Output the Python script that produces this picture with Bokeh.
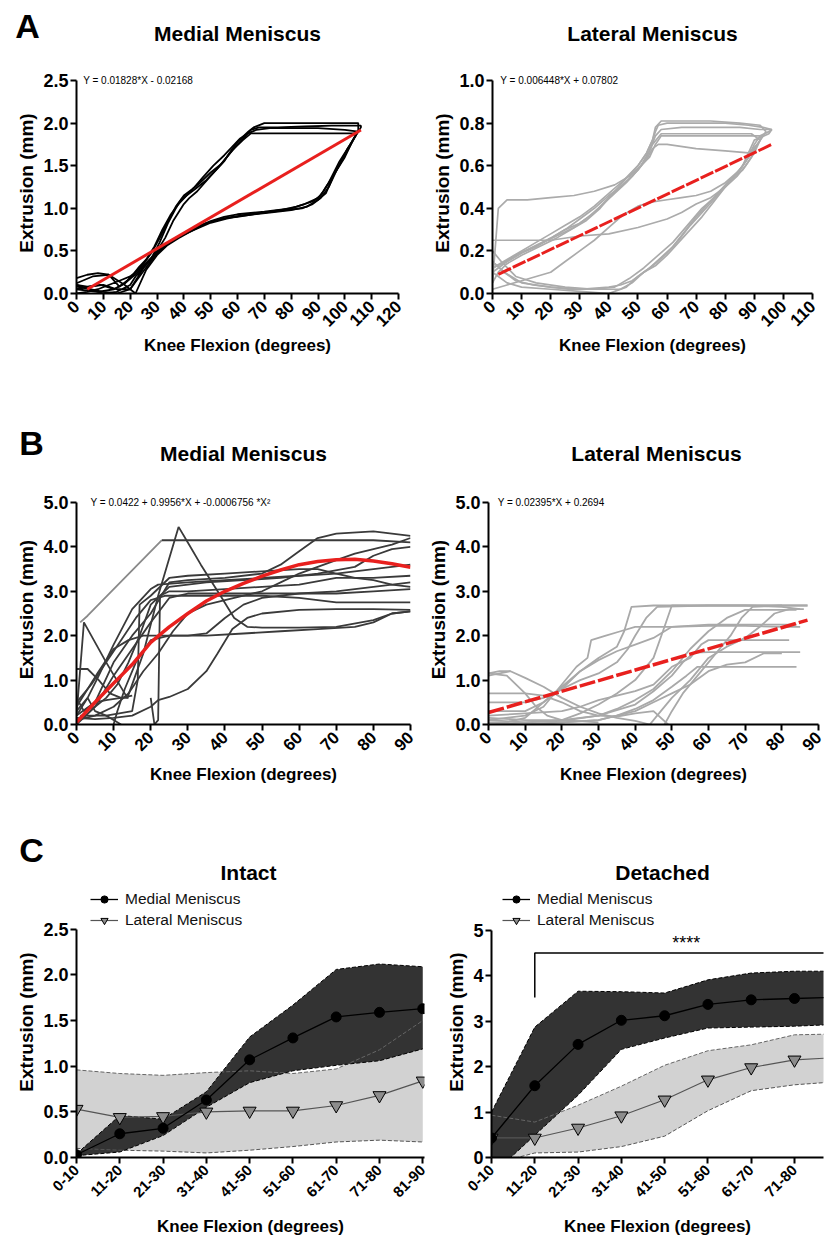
import math
from bokeh.plotting import figure
from bokeh.layouts import column, row
from bokeh.models import Range1d, FixedTicker, PrintfTickFormatter, Label, Legend, LegendItem
from bokeh.embed import file_html
from bokeh.resources import INLINE

FONT = "Liberation Sans"

# ---------------- Panel A, medial (black hysteresis loops) ----------------
a1_x = [0,5,10,15,20,25,30,35,40,45,50,55,60,70,80,85,90,92,95,100,103,105,105,90,80,70,66,64,60,57,55,50,45,42,40,38,36,33,30,27,25,22,20,15,10,5,0]
a1_y = [0.05,0.08,0.1,0.05,0.05,0.3,0.48,0.6,0.7,0.78,0.85,0.9,0.93,0.96,1.0,1.05,1.12,1.2,1.35,1.6,1.8,1.92,2.0,2.0,2.0,2.0,1.95,1.9,1.78,1.65,1.55,1.38,1.2,1.12,1.05,0.95,0.85,0.65,0.5,0.38,0.3,0.2,0.1,0.02,0.0,0.05,0.1]
a2_x = [0,6,12,18,22,26,30,34,38,42,48,54,60,68,76,82,88,91,94,98,102,104,104,92,80,68,65,62,58,54,50,46,43,40,37,35,33,31,28,25,22,18,14,8,0]
a2_y = [0.12,0.2,0.22,0.1,0.0,0.28,0.45,0.57,0.65,0.72,0.82,0.88,0.9,0.94,0.98,1.02,1.08,1.15,1.3,1.55,1.75,1.85,1.88,1.88,1.88,1.88,1.88,1.8,1.68,1.52,1.42,1.3,1.22,1.15,1.02,0.9,0.78,0.65,0.48,0.35,0.25,0.12,0.05,0.02,0.05]
a3_x = [0,4,8,12,16,20,24,28,32,36,40,46,52,58,64,72,80,86,90,93,96,100,104,106,106,95,85,75,68,65,63,60,56,52,48,44,41,38,35,32,29,26,23,20,16,12,8,4,0]
a3_y = [0.0,0.02,0.05,0.1,0.15,0.2,0.3,0.42,0.55,0.62,0.7,0.8,0.86,0.9,0.92,0.95,0.98,1.02,1.1,1.18,1.4,1.62,1.85,1.95,1.97,1.97,1.96,1.95,1.95,1.92,1.85,1.75,1.6,1.45,1.32,1.22,1.15,1.05,0.92,0.75,0.55,0.4,0.3,0.18,0.08,0.22,0.24,0.22,0.18]
a4_x = [0,5,10,15,20,23,27,31,35,39,44,50,56,62,70,78,84,88,91,94,97,101,104,105,100,90,80,72,67,64,61,58,55,51,47,44,41,39,37,34,31,28,24,21,18,14,9,4,0]
a4_y = [0.08,0.05,0.02,0.0,0.05,0.18,0.35,0.5,0.6,0.68,0.75,0.83,0.88,0.92,0.95,0.98,1.0,1.05,1.12,1.25,1.45,1.7,1.85,1.9,1.92,1.94,1.94,1.94,1.92,1.88,1.82,1.72,1.62,1.5,1.36,1.25,1.15,1.1,1.0,0.82,0.6,0.42,0.28,0.2,0.12,0.05,0.1,0.08,0.1]
fitA_med_x = [4, 106]
fitA_med_y = [0.05, 1.92]

# ---------------- Panel A, lateral (grey loops) ----------------
b1_x = [0,3,8,15,25,35,42,47,52,57,62,67,72,77,82,86,89,92,94,92,85,75,65,58,56,55,53,50,46,42,37,32,27,22,16,10,5,2,0]
b1_y = [0.2,0.15,0.08,0.05,0.03,0.02,0.03,0.07,0.12,0.18,0.24,0.32,0.4,0.46,0.53,0.6,0.66,0.72,0.76,0.79,0.8,0.81,0.81,0.81,0.78,0.72,0.66,0.6,0.54,0.48,0.4,0.34,0.3,0.26,0.22,0.18,0.14,0.1,0.05]
b2_x = [0,2,5,12,20,28,35,42,47,51,54,56,58,65,75,85,92,96,95,90,88,86,83,80,76,72,68,64,60,56,52,48,44,40,30,20,10,4,0]
b2_y = [0.05,0.4,0.44,0.44,0.45,0.46,0.48,0.51,0.55,0.6,0.67,0.74,0.77,0.78,0.78,0.78,0.77,0.77,0.75,0.72,0.66,0.6,0.55,0.5,0.43,0.36,0.3,0.24,0.18,0.13,0.1,0.06,0.04,0.03,0.02,0.03,0.05,0.1,0.15]
b3_x = [0,5,10,20,30,40,46,50,54,58,62,66,70,74,78,82,86,89,91,93,90,80,70,62,58,56,54,51,48,44,40,35,30,25,20,14,8,3,0]
b3_y = [0.1,0.05,0.03,0.02,0.01,0.0,0.03,0.08,0.12,0.17,0.22,0.29,0.36,0.42,0.48,0.54,0.58,0.64,0.7,0.74,0.74,0.74,0.74,0.74,0.74,0.7,0.64,0.6,0.55,0.5,0.45,0.38,0.33,0.3,0.26,0.22,0.18,0.14,0.12]
b4_x = [0,5,10,20,30,40,50,60,65,70,75,80,84,87,89,91,88,80,70,60,57,55,53,50,47,44,40,35,30,25,20,15,10,5,2,0]
b4_y = [0.25,0.25,0.25,0.25,0.27,0.28,0.31,0.35,0.38,0.42,0.45,0.5,0.56,0.62,0.66,0.7,0.66,0.67,0.68,0.7,0.7,0.68,0.63,0.58,0.54,0.5,0.46,0.4,0.35,0.3,0.26,0.22,0.19,0.15,0.12,0.1]
b5_x = [0,5,10,15,20,25,30,35,40,45,50,55,60,65,70,75,80,85,88,90,92,95,96,93,88,80,70,60,57,56,55,53,50,45,40,35,30,25,20,15,10,5,0]
b5_y = [0.02,0.04,0.06,0.08,0.1,0.15,0.2,0.25,0.31,0.37,0.41,0.43,0.44,0.45,0.46,0.48,0.52,0.58,0.64,0.7,0.74,0.76,0.77,0.78,0.79,0.8,0.8,0.8,0.79,0.76,0.72,0.66,0.6,0.53,0.47,0.41,0.36,0.32,0.28,0.24,0.2,0.16,0.12]
b6_x = [0,4,8,14,20,26,32,38,44,48,52,56,60,64,68,72,76,80,84,87,90,92,89,80,70,62,58,55,53,50,46,42,38,33,28,22,16,10,5,0]
b6_y = [0.15,0.1,0.06,0.04,0.03,0.02,0.02,0.02,0.02,0.05,0.1,0.14,0.19,0.25,0.32,0.38,0.44,0.5,0.55,0.6,0.66,0.72,0.75,0.75,0.75,0.75,0.75,0.7,0.64,0.58,0.52,0.47,0.42,0.36,0.31,0.27,0.23,0.19,0.15,0.12]
fitA_lat_x = [2, 96]
fitA_lat_y = [0.09, 0.70]

# ---------------- Panel B, medial ----------------
m1_x = [1, 3, 23]
m1_y = [2.3, 2.45, 4.15]
m2_x = [0,2,8,13.7,18,22,27.5,30,33.5,38.8,42.5,46,50,60,70,80,85,90]
m2_y = [0.2,2.3,1.4,0.6,1.6,2.9,4.45,4.1,3.6,2.9,2.4,2.2,2.18,2.18,2.2,2.35,2.5,2.55]
m3_x = [0,3,6,10,15,20,22,30,40,50,60,70,80,90]
m3_y = [0.2,0.6,1.1,1.8,2.6,3.05,3.15,3.2,3.25,3.3,3.35,3.4,3.5,3.6]
m4_x = [0,5,10,15,20,25,30,40,50,60,70,80,90]
m4_y = [0.0,0.4,1.1,1.7,2.3,2.85,2.95,2.95,2.95,2.95,2.95,3.0,3.05]
m5_x = [1,8,15,16.5,17,20,25,30,40,50,60,65,70,75,80,85,90]
m5_y = [0.2,0.2,0.3,1.0,2.7,2.9,3.3,3.35,3.4,3.45,3.5,3.5,3.4,3.3,3.25,3.15,3.1]
m6_x = [20,21,22,22.5,25,30,40,50,60,70,80,90]
m6_y = [0.6,0.0,0.1,2.9,3.0,3.0,3.05,3.1,3.15,3.3,3.3,3.35]
m7_x = [0,5,10,14,18,22,26,30,35,40,45,50,55,60,65,70,75,80,85,90]
m7_y = [0.1,0.2,0.4,0.7,1.2,1.6,2.1,2.5,2.7,2.8,2.9,3.0,3.2,3.4,3.55,3.7,3.85,3.95,4.05,4.2]
m8_x = [0,3,6,9,12,14]
m8_y = [1.25,1.25,1.0,0.7,0.6,0.6]
m9_x = [0,5,10,15,20,22,25,30,35,38,42,46,50,60,70,80,90]
m9_y = [0.15,0.12,0.15,0.2,0.4,0.55,0.62,0.8,1.2,1.6,2.15,2.4,2.5,2.58,2.6,2.6,2.58]
m10_x = [0,6,10,14,18,25,35,45,55,65,75,80,85,90]
m10_y = [0.4,1.2,1.7,1.9,2.0,2.0,2.0,2.05,2.1,2.15,2.2,2.3,2.5,2.55]
m11_x = [0,4,8,12,16,20,24,30,40,50,60,70,80,90]
m11_y = [0.5,0.9,1.4,1.9,2.4,2.8,2.9,2.9,2.9,2.9,2.85,2.75,2.75,2.75]
m12_x = [2,5,8,11,14,17,20,25,35,45,55,65,75,80,85,90]
m12_y = [0.3,0.4,0.6,0.9,1.4,2.0,2.7,3.1,3.2,3.25,3.3,3.4,3.55,3.8,3.95,4.0]
m13_x = [0,5,10,15,20,25,30,40,50,55,60,65,70,80,90]
m13_y = [0.2,0.5,1.4,2.0,2.5,3.2,3.25,3.3,3.4,3.6,3.9,4.2,4.3,4.35,4.25]
m14_x = [10,11,13,16,20,25,30,35,40,45,50,60,70,80,90]
m14_y = [0.0,0.3,0.8,1.4,1.9,2.0,2.0,2.05,2.4,2.7,2.85,2.95,3.0,3.1,3.2]
m15_x = [0,2,5,8,12,15]
m15_y = [0.6,0.3,0.5,0.55,0.6,0.65]
m16_x = [23,40,60,80,90]
m16_y = [4.15,4.15,4.15,4.15,4.1]
m17_x = [0,3,5,8,10,12]
m17_y = [0.3,0.6,0.3,0.2,0.1,0.0]
fitB_med_x = [0,5,10,15,20,25,30,35,40,45,50,55,60,65,70,75,80,85,90]
fitB_med_y = [0.05,0.5,0.93,1.35,1.85,2.2,2.5,2.78,3.0,3.18,3.34,3.48,3.6,3.67,3.71,3.72,3.68,3.62,3.54]

# ---------------- Panel B, lateral ----------------
l1_x = [0,3,6,10,15,20,25,30,35,40,44]
l1_y = [1.1,1.15,1.2,1.05,0.85,0.6,0.4,0.25,0.15,0.08,0.0]
l2_x = [0,5,10,15,20,25,30,35,40,45,49]
l2_y = [0.7,0.7,0.7,0.65,0.5,0.3,0.2,0.18,0.25,0.3,0.0]
l3_x = [0,5,10,15,20,25,30,35,37,39,45,60,75,87]
l3_y = [0.05,0.05,0.15,0.5,0.85,1.2,1.5,1.75,2.1,2.65,2.68,2.68,2.68,2.68]
l4_x = [0,10,15,20,24,27,28,32,36,40,50,60,70,80,85]
l4_y = [0.1,0.2,0.4,0.9,1.3,1.5,1.9,2.0,2.1,2.2,2.2,2.22,2.22,2.2,2.2]
l5_x = [0,10,20,25,30,35,40,45,48,50,60,70,80,85]
l5_y = [0.0,0.05,0.1,0.25,0.45,0.7,1.0,1.5,2.2,2.68,2.68,2.68,2.65,2.6]
l6_x = [0,10,20,30,35,40,45,50,55,60,65,70,80,84]
l6_y = [0.1,0.05,0.08,0.2,0.35,0.55,0.8,1.2,1.7,2.1,2.4,2.58,2.58,2.58]
l7_x = [10,20,30,35,40,45,50,54,57,65,75,84]
l7_y = [0.0,0.05,0.1,0.2,0.35,0.55,0.85,1.1,1.3,1.3,1.3,1.3]
l8_x = [0,10,20,30,40,45,50,53,56,60,70,80,85]
l8_y = [0.15,0.1,0.1,0.2,0.45,0.75,1.1,1.4,1.62,1.63,1.63,1.63,1.63]
l9_x = [0,10,20,25,30,35,40,45,50,55,58,60,70,82]
l9_y = [0.2,0.25,0.3,0.4,0.55,0.65,0.75,0.9,1.3,1.5,1.8,1.9,1.9,1.9]
l10_x = [48,50,53,56,60,63,66,69,72,80,87]
l10_y = [0.0,0.3,0.7,1.0,1.4,1.7,2.0,2.4,2.65,2.68,2.68]
l11_x = [44,47,50,55,60,65,70,74,78,82,86]
l11_y = [0.0,0.3,0.6,1.0,1.5,1.75,1.95,2.2,2.5,2.6,2.6]
l12_x = [0,5,10,13,16,20,30]
l12_y = [1.15,1.1,0.7,0.4,0.2,0.1,0.05]
l13_x = [0,5,10,15,20,25,30,35,38,40,43,46,60,70,80]
l13_y = [0.5,0.5,0.5,0.6,0.8,1.0,1.15,1.4,1.7,2.0,2.4,2.65,2.68,2.68,2.68]
l14_x = [0,10,15,20,25,30,35,40,45,50,60,70,80,84]
l14_y = [0.3,0.3,0.5,0.8,1.2,1.45,1.65,1.8,1.95,2.2,2.25,2.25,2.25,2.25]
l15_x = [0,3,6]
l15_y = [1.15,1.2,1.2]
l16_x = [0,10,20,30,40,45,50,55,60,65,70,75,80]
l16_y = [0.0,0.0,0.05,0.1,0.3,0.5,0.7,0.9,1.2,1.35,1.4,1.6,1.6]
fitB_lat_x = [0, 87]
fitB_lat_y = [0.27, 2.35]

# ---------------- Panel C ----------------
cats = ["0-10", "11-20", "21-30", "31-40", "41-50", "51-60", "61-70", "71-80", "81-90"]
intact_med = [0.03, 0.26, 0.32, 0.63, 1.07, 1.31, 1.54, 1.59, 1.63]
intact_med_hi = [0.04, 0.46, 0.42, 0.72, 1.32, 1.67, 2.06, 2.12, 2.09]
intact_med_lo = [0.02, 0.06, 0.24, 0.55, 0.82, 0.95, 1.01, 1.06, 1.19]
intact_lat = [0.53, 0.44, 0.45, 0.50, 0.51, 0.51, 0.57, 0.68, 0.84]
intact_lat_hi = [0.96, 0.92, 0.90, 0.93, 0.95, 0.92, 0.97, 1.18, 1.50]
intact_lat_lo = [0.10, 0.08, 0.07, 0.05, 0.08, 0.12, 0.17, 0.19, 0.17]
det_med = [0.43, 1.58, 2.49, 3.02, 3.12, 3.37, 3.47, 3.50, 3.53]
det_med_hi = [1.00, 2.87, 3.66, 3.65, 3.62, 3.91, 4.06, 4.10, 4.10]
det_med_lo = [-0.39, 0.49, 1.37, 2.38, 2.63, 2.85, 2.87, 2.89, 2.93]
det_lat = [0.43, 0.43, 0.65, 0.92, 1.27, 1.71, 1.98, 2.15, 2.20]
det_lat_hi = [0.93, 0.78, 1.15, 1.57, 2.03, 2.35, 2.48, 2.70, 2.72]
det_lat_lo = [-0.15, 0.10, 0.12, 0.24, 0.47, 1.03, 1.47, 1.60, 1.67]
bracket_x = [1, 1, 8.5]
bracket_y = [3.52, 4.5, 4.5]
stars_x, stars_y = 4.5, 4.72

PAGE_W = 826


def make_fig(width, height, xr, yr, bl, br, bt, bb, xticks, yticks, yfmt, ybounds,
             xsize="17px", ysize="18px", xstand=4):
    p = figure(width=width, height=height, x_range=Range1d(xr[0], xr[1]), y_range=Range1d(yr[0], yr[1]),
               output_backend="svg", toolbar_location=None,
               min_border_left=bl, min_border_right=br, min_border_top=bt, min_border_bottom=bb)
    p.xgrid.visible = False
    p.ygrid.visible = False
    p.outline_line_color = None
    p.background_fill_color = "white"
    p.border_fill_color = "white"
    for ax in (p.xaxis[0], p.yaxis[0]):
        ax.axis_line_width = 2
        ax.axis_line_color = "black"
        ax.major_tick_line_width = 2
        ax.major_tick_line_color = "black"
        ax.major_tick_out = 6
        ax.major_tick_in = 0
        ax.minor_tick_line_color = None
        ax.major_label_text_font = FONT
        ax.major_label_text_font_style = "bold"
        ax.major_label_text_color = "black"
        ax.axis_label_text_font = FONT
        ax.axis_label_text_font_style = "bold"
        ax.axis_label_text_color = "black"
    p.xaxis[0].axis_label_text_font_size = "17px"
    p.yaxis[0].axis_label_text_font_size = "19px"
    p.xaxis[0].major_label_text_font_size = xsize
    p.yaxis[0].major_label_text_font_size = ysize
    p.xaxis[0].ticker = FixedTicker(ticks=xticks)
    p.yaxis[0].ticker = FixedTicker(ticks=yticks)
    p.yaxis[0].formatter = PrintfTickFormatter(format=yfmt)
    p.yaxis[0].bounds = ybounds
    p.xaxis[0].major_label_orientation = math.pi / 4
    p.xaxis[0].major_label_standoff = 4
    p.yaxis[0].major_label_standoff = 2
    p.xaxis[0].axis_label = "Knee Flexion (degrees)"
    p.yaxis[0].axis_label = "Extrusion (mm)"
    p.xaxis[0].axis_label_standoff = xstand
    p.yaxis[0].axis_label_standoff = 3
    return p


def txt(p, x, y, text, size, bold=True, align="center", baseline="middle"):
    p.add_layout(Label(x=x, y=y, x_units="data", y_units="data", text=text, text_font=FONT,
                       text_font_size=size, text_font_style="bold" if bold else "normal",
                       text_align=align, text_baseline=baseline, text_color="black"))


def header(height, items):
    h = figure(width=PAGE_W, height=height, x_range=Range1d(0, PAGE_W), y_range=Range1d(0, height),
               output_backend="svg", toolbar_location=None, min_border=0,
               x_axis_location=None, y_axis_location=None)
    h.xgrid.visible = False
    h.ygrid.visible = False
    h.outline_line_color = None
    h.border_fill_color = "white"
    for x, y, text, size in items:
        txt(h, x, height - y, text, size)
    return h


# ---------- Row A ----------
hA = header(56, [(27, 25, "A", "34px"), (237, 33, "Medial Meniscus", "21px"),
                 (652, 33, "Lateral Meniscus", "21px")])

pA1 = make_fig(414, 344, (0, 120), (0, 2.594), 76, 16, 16, 107,
               list(range(0, 121, 10)), [0, 0.5, 1.0, 1.5, 2.0, 2.5], "%.1f", (0, 2.5), xstand=1)
for xs, ys in [(a1_x, a1_y), (a2_x, a2_y), (a3_x, a3_y), (a4_x, a4_y)]:
    pA1.line(xs, ys, line_color="black", line_width=1.8)
pA1.line(fitA_med_x, fitA_med_y, line_color="#e8201e", line_width=3)
txt(pA1, 2.5, 2.5, "Y = 0.01828*X - 0.02168", "10px", bold=False, align="left")

pA2 = make_fig(412, 344, (0, 110), (0, 1.0376), 78, 14, 16, 107,
               list(range(0, 111, 10)), [0, 0.2, 0.4, 0.6, 0.8, 1.0], "%.1f", (0, 1.0), xstand=1)
for xs, ys in [(b1_x, b1_y), (b2_x, b2_y), (b3_x, b3_y), (b4_x, b4_y), (b5_x, b5_y), (b6_x, b6_y)]:
    pA2.line(xs, ys, line_color="#ababab", line_width=1.7)
pA2.line(fitA_lat_x, fitA_lat_y, line_color="#e8201e", line_width=3, line_dash="14 2")
txt(pA2, 2.7, 1.0, "Y = 0.006448*X + 0.07802", "10px", bold=False, align="left")

# ---------- Row B ----------
hB = header(68, [(31, 42, "B", "34px"), (243, 53, "Medial Meniscus", "21px"),
                 (656, 53, "Lateral Meniscus", "21px")])

pB1 = make_fig(418, 332, (0, 90), (0, 5.18), 76, 8, 26, 76,
               list(range(0, 91, 10)), [0, 1, 2, 3, 4, 5], "%.1f", (0, 5), xstand=6)
pB1.line(m1_x, m1_y, line_color="#8a8a8a", line_width=1.8)
for xs, ys in [(m2_x, m2_y), (m3_x, m3_y), (m4_x, m4_y), (m5_x, m5_y), (m6_x, m6_y), (m7_x, m7_y),
               (m8_x, m8_y), (m9_x, m9_y), (m10_x, m10_y), (m11_x, m11_y), (m12_x, m12_y),
               (m13_x, m13_y), (m14_x, m14_y), (m15_x, m15_y), (m16_x, m16_y), (m17_x, m17_y)]:
    pB1.line(xs, ys, line_color="#3a3a3a", line_width=1.8)
pB1.line(fitB_med_x, fitB_med_y, line_color="#e8201e", line_width=3.5)
txt(pB1, 3.8, 5.0, "Y = 0.0422 + 0.9956*X + -0.0006756 *X\u00b2", "10px", bold=False, align="left")

pB2 = make_fig(408, 332, (0, 90), (0, 5.18), 70, 8, 26, 76,
               list(range(0, 91, 10)), [0, 1, 2, 3, 4, 5], "%.1f", (0, 5), xstand=6)
for xs, ys in [(l1_x, l1_y), (l2_x, l2_y), (l3_x, l3_y), (l4_x, l4_y), (l5_x, l5_y), (l6_x, l6_y),
               (l7_x, l7_y), (l8_x, l8_y), (l9_x, l9_y), (l10_x, l10_y), (l11_x, l11_y), (l12_x, l12_y),
               (l13_x, l13_y), (l14_x, l14_y), (l15_x, l15_y), (l16_x, l16_y)]:
    pB2.line(xs, ys, line_color="#a9a9a9", line_width=1.8)
pB2.line(fitB_lat_x, fitB_lat_y, line_color="#e8201e", line_width=3.5, line_dash="16 3")
txt(pB2, 2.5, 5.0, "Y = 0.02395*X + 0.2694", "10px", bold=False, align="left")


# ---------- Row C ----------
def panel_c(p, med, med_hi, med_lo, lat, lat_hi, lat_lo, leg_x):
    pos = list(range(len(cats)))
    p.varea(x=pos, y1=lat_lo, y2=lat_hi, fill_color="#d2d2d2")
    p.varea(x=pos, y1=med_lo, y2=med_hi, fill_color="#333333")
    p.line(pos, lat_hi, line_color="#666666", line_width=1, line_dash="4 2")
    p.line(pos, lat_lo, line_color="#555555", line_width=1, line_dash="4 2")
    p.line(pos, med_hi, line_color="black", line_width=1, line_dash="4 2")
    p.line(pos, med_lo, line_color="black", line_width=1, line_dash="4 2")
    rl = p.line(pos, lat, line_color="#555555", line_width=1.2)
    rlm = p.scatter(pos, lat, marker="inverted_triangle", size=13, fill_color="#8c8c8c",
                    line_color="black", line_width=1)
    rm = p.line(pos, med, line_color="black", line_width=1.3)
    rmm = p.scatter(pos, med, marker="circle", size=10, fill_color="black", line_color="black")
    p.xaxis[0].major_label_overrides = {i: c for i, c in enumerate(cats)}
    leg = Legend(items=[LegendItem(label="Medial Meniscus", renderers=[rm, rmm]),
                        LegendItem(label="Lateral Meniscus", renderers=[rl, rlm])],
                 location=(leg_x, 228), margin=0, padding=0, spacing=3,
                 glyph_width=28, glyph_height=18, label_height=18, label_standoff=7,
                 label_text_font=FONT, label_text_font_size="15.5px", label_text_color="#111111",
                 border_line_color=None, background_fill_alpha=0)
    p.add_layout(leg)


hC = header(86, [(31, 49, "C", "34px"), (248, 72, "Intact", "21px"),
                 (662, 72, "Detached", "21px")])

pC1 = make_fig(428, 352, (0, 8.04), (0, 2.969), 76, 4, 0, 80,
               list(range(9)), [0, 0.5, 1.0, 1.5, 2.0, 2.5], "%.1f", (0, 2.5), xsize="15px", xstand=12)
panel_c(pC1, intact_med, intact_med_hi, intact_med_lo, intact_lat, intact_lat_hi, intact_lat_lo, 14)

pC2 = make_fig(398, 352, (0, 7.67), (0, 5.965), 63, 3, 0, 80,
               list(range(9)), [0, 1, 2, 3, 4, 5], "%d", (0, 5), xsize="15px", xstand=12)
panel_c(pC2, det_med, det_med_hi, det_med_lo, det_lat, det_lat_hi, det_lat_lo, 11)
pC2.line(bracket_x, bracket_y, line_color="black", line_width=1.5)
txt(pC2, stars_x, stars_y, "****", "18px", bold=False)

layout = column(hA, row(pA1, pA2), hB, row(pB1, pB2), hC, row(pC1, pC2))
open("out.html", "w").write(file_html(layout, INLINE))
